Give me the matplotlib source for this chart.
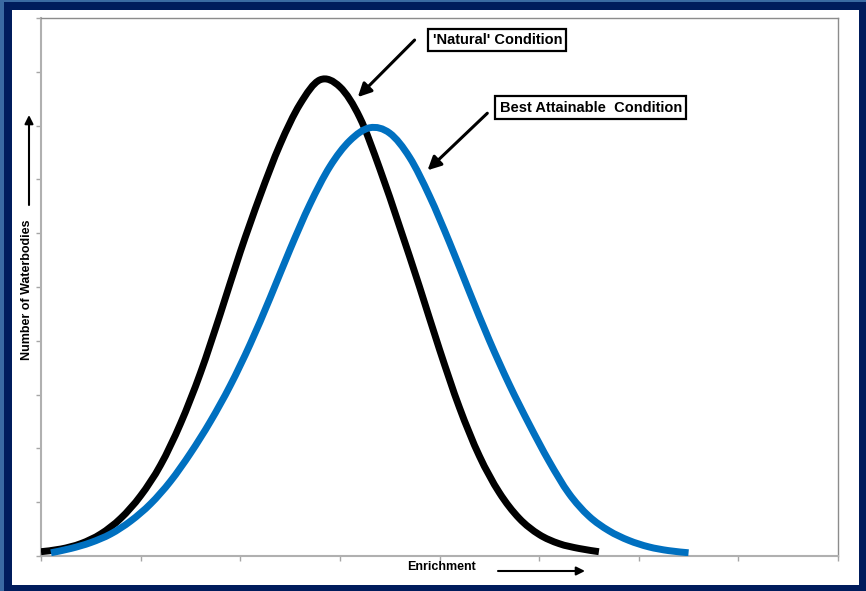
import matplotlib
matplotlib.use("Agg")
import matplotlib.pyplot as plt
import numpy as np
from matplotlib.patches import Rectangle, PathPatch
from matplotlib.path import Path

# values (x ticks 0..8, y ticks 0..10)
natural_x = [0.0, 0.2, 0.4, 0.6, 0.8, 1.0, 1.2, 1.4, 1.6, 1.8, 2.0, 2.2, 2.4, 2.6, 2.8,
             3.0, 3.2, 3.4, 3.6, 3.8, 4.0, 4.2, 4.4, 4.6, 4.8, 5.0, 5.2, 5.4, 5.6]
natural_y = [0.08, 0.13, 0.23, 0.41, 0.70, 1.12, 1.69, 2.46, 3.40, 4.50, 5.65, 6.70, 7.65,
             8.40, 8.85, 8.72, 8.15, 7.20, 6.12, 5.00, 3.84, 2.76, 1.86, 1.18, 0.70, 0.40,
             0.23, 0.14, 0.08]

best_x = [0.1, 0.3, 0.5, 0.7, 0.9, 1.1, 1.3, 1.5, 1.7, 1.9, 2.1, 2.3, 2.5, 2.7, 2.9, 3.1,
          3.3, 3.5, 3.7, 3.9, 4.1, 4.3, 4.5, 4.7, 4.9, 5.1, 5.3, 5.5, 5.7, 5.9, 6.1, 6.3, 6.5]
best_y = [0.06, 0.14, 0.25, 0.41, 0.65, 0.97, 1.39, 1.91, 2.50, 3.17, 3.94, 4.80, 5.70,
          6.54, 7.24, 7.72, 7.96, 7.86, 7.41, 6.69, 5.83, 4.91, 4.01, 3.19, 2.45, 1.76,
          1.16, 0.74, 0.47, 0.29, 0.17, 0.10, 0.06]

x_ticks = list(range(0, 9))
y_ticks = list(range(0, 11))


def smooth_path(xs, ys):
    # smoothed line through the points (Catmull-Rom drawn as cubic Bezier segments)
    p = np.column_stack([xs, ys])
    p = np.vstack([p[0], p, p[-1]])
    verts = [p[1]]
    codes = [Path.MOVETO]
    for i in range(1, len(p) - 2):
        c1 = p[i] + (p[i + 1] - p[i - 1]) / 6
        c2 = p[i + 1] - (p[i + 2] - p[i]) / 6
        verts += [c1, c2, p[i + 1]]
        codes += [Path.CURVE4] * 3
    return Path(verts, codes)


W, H = 866, 591
fig = plt.figure(figsize=(W / 100, H / 100), dpi=100)
fig.patch.set_facecolor("#3a6aa2")

# slide style frame, kept behind the axes
fig.patches.append(Rectangle((4 / W, 0), 862 / W, 589 / H, transform=fig.transFigure,
                             facecolor="#001c5c", edgecolor="none", zorder=-2))
fig.patches.append(Rectangle((12 / W, 6 / H), 847 / W, 575 / H, transform=fig.transFigure,
                             facecolor="white", edgecolor="none", zorder=-1))

ax = fig.add_axes([41 / W, 35 / H, 797 / W, 538 / H])
ax.set_facecolor("white")

for xs, ys, col in [(natural_x, natural_y, "black"), (best_x, best_y, "#0070c0")]:
    ax.add_patch(PathPatch(smooth_path(xs, ys), facecolor="none", edgecolor=col, lw=5,
                           capstyle="butt", joinstyle="round", zorder=3))

ax.set_xlim(0, 8)
ax.set_ylim(0, 10)
ax.set_xticks(x_ticks)
ax.set_yticks(y_ticks)
ax.set_xticklabels([])
ax.set_yticklabels([])
ax.tick_params(direction="out", length=3.5, width=1, color="#a6a6a6")
for side in ["left", "bottom"]:
    ax.spines[side].set_color("#b0b0b0")
    ax.spines[side].set_linewidth(1.5)
for side in ["top", "right"]:
    ax.spines[side].set_color("#8c8c8c")
    ax.spines[side].set_linewidth(1)

font = dict(family=["Liberation Sans", "DejaVu Sans"], weight="bold")
box = dict(boxstyle="square,pad=0.3", facecolor="white", edgecolor="black", lw=1.6)
arrow = dict(arrowstyle="-|>,head_length=0.8,head_width=0.4", color="black", lw=2.2,
             shrinkA=0, shrinkB=0)

ax.text(4.58, 9.59, "'Natural' Condition", ha="center", va="center", fontsize=10.5,
        bbox=box, **font)
ax.annotate("", xy=(3.18, 8.53), xytext=(3.75, 9.59), arrowprops=arrow)

ax.text(5.52, 8.33, "Best Attainable  Condition", ha="center", va="center", fontsize=10.5,
        bbox=box, **font)
ax.annotate("", xy=(3.88, 7.17), xytext=(4.48, 8.23), arrowprops=arrow)

# axis titles with arrows
small_arrow = dict(arrowstyle="-|>,head_length=0.5,head_width=0.25", color="black", lw=1.5,
                   shrinkA=0, shrinkB=0)
fig.text(442 / W, 1 - 567 / H, "Enrichment", ha="center", va="center", fontsize=9, **font)
ax.annotate("", xy=(585 / W, 1 - 571 / H), xytext=(498 / W, 1 - 571 / H),
            xycoords="figure fraction", textcoords="figure fraction",
            arrowprops=small_arrow, annotation_clip=False)
fig.text(27 / W, 1 - 290 / H, "Number of Waterbodies", ha="center", va="center",
         rotation=90, fontsize=9, **font)
ax.annotate("", xy=(29 / W, 1 - 115 / H), xytext=(29 / W, 1 - 205 / H),
            xycoords="figure fraction", textcoords="figure fraction",
            arrowprops=small_arrow, annotation_clip=False)

fig.savefig("out.png", dpi=100, facecolor=fig.get_facecolor())
